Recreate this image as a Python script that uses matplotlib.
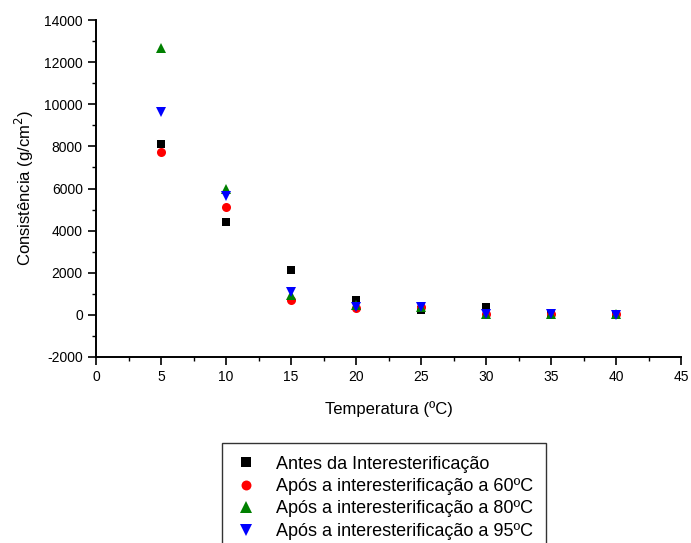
import matplotlib
matplotlib.use("Agg")
import matplotlib.pyplot as plt
from matplotlib.ticker import MultipleLocator

temperatura = [5, 10, 15, 20, 25, 30, 35, 40]
antes = [8100, 4410, 2130, 710, 220, 380, 30, 20]
apos_60 = [7730, 5130, 710, 330, 380, 40, 30, 20]
apos_80 = [12650, 5980, 950, 470, 380, 40, 30, 20]
apos_95 = [9630, 5650, 1090, 380, 380, 40, 30, 10]

labels = [
    "Antes da Interesterificação",
    "Após a interesterificação a 60ºC",
    "Após a interesterificação a 80ºC",
    "Após a interesterificação a 95ºC",
]

plt.rcParams.update({"font.family": ["Liberation Sans", "DejaVu Sans"], "font.size": 10,
                     "axes.unicode_minus": False})
fig = plt.figure(figsize=(6.91, 5.43), dpi=100)
ax = fig.add_axes([96 / 691, 1 - 357 / 543, 585 / 691, 337 / 543])

series = [
    (antes, "black", "s", 6),
    (apos_60, "red", "o", 6.5),
    (apos_80, "green", "^", 7.5),
    (apos_95, "blue", "v", 7.5),
]
handles = []
for (vals, color, marker, ms), label in zip(series, labels):
    h, = ax.plot(temperatura, vals, linestyle="none", marker=marker, color=color,
                 markersize=ms, markeredgewidth=0, label=label)
    handles.append(h)

ax.set_xlim(0, 45)
ax.set_ylim(-2000, 14000)
ax.xaxis.set_major_locator(MultipleLocator(5))
ax.xaxis.set_minor_locator(MultipleLocator(2.5))
ax.yaxis.set_major_locator(MultipleLocator(2000))
ax.yaxis.set_minor_locator(MultipleLocator(1000))
ax.tick_params(which="major", direction="out", length=6, width=1.2, labelsize=10)
ax.tick_params(which="minor", direction="out", length=3, width=1.0)
ax.spines[["top", "right"]].set_visible(False)
ax.spines[["left", "bottom"]].set_linewidth(1.4)
ax.set_xlabel("Temperatura (ºC)", fontsize=12, labelpad=12)
ax.set_ylabel("Consistência (g/cm$^2$)", fontsize=12, labelpad=6)

leg = fig.legend(handles=handles, loc="upper left",
                 bbox_to_anchor=(222 / 691, 1 - 443 / 543),
                 fontsize=13, frameon=True, fancybox=False, edgecolor="black",
                 borderpad=0.7, labelspacing=0.3, handletextpad=1.0,
                 handlelength=1.3, borderaxespad=0, markerscale=1.1)
leg.get_frame().set_linewidth(1.0)

fig.savefig("out.png", dpi=100)
